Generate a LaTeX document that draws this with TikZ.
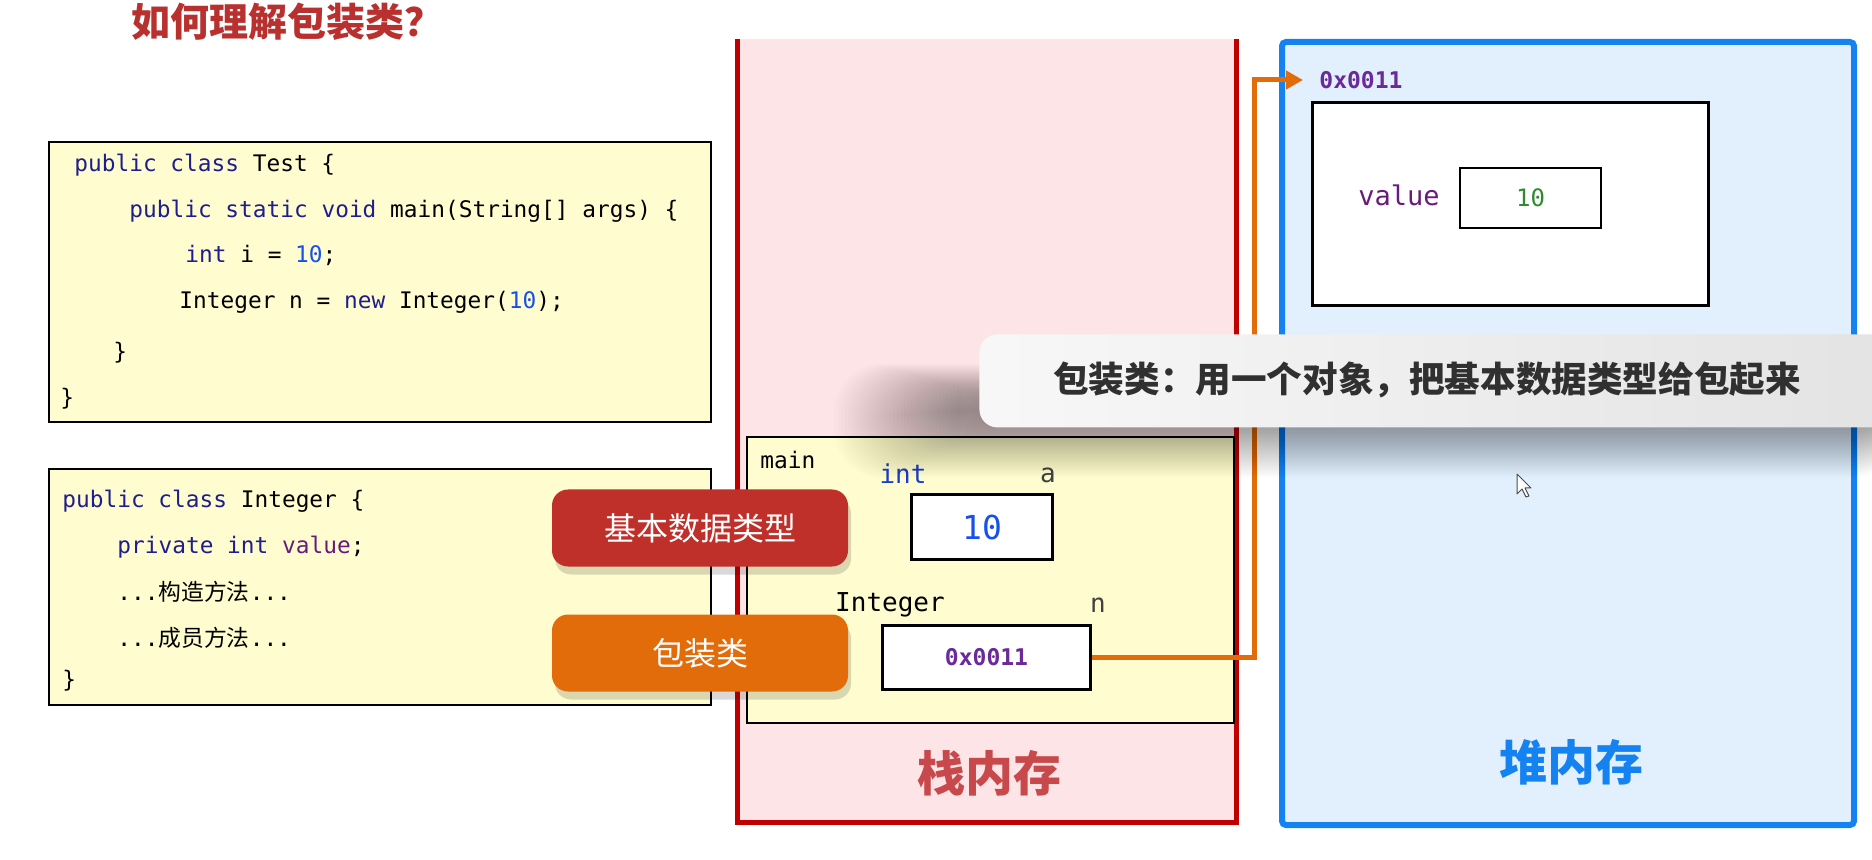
\documentclass[tikz,border=0pt]{standalone}
\usepackage{fontspec}
\usetikzlibrary{arrows.meta,shadows,calc}
\newfontfamily\cjk{Noto Sans CJK SC}
\newfontfamily\codefont{DejaVu Sans Mono}
\definecolor{kw}{HTML}{1E1E8C}
\definecolor{num}{HTML}{1750EB}
\definecolor{fld}{HTML}{6A1A7A}
\definecolor{addr}{HTML}{6A2A9A}
\definecolor{grn}{HTML}{2E8B2E}
\definecolor{stackred}{HTML}{C00000}
\definecolor{stackfill}{HTML}{FDE4E6}
\definecolor{heapblue}{HTML}{1482F0}
\definecolor{heapfill}{HTML}{E2F0FD}
\definecolor{codefill}{HTML}{FFFDCF}
\definecolor{titlered}{HTML}{B8312F}
\definecolor{calred}{HTML}{C0302B}
\definecolor{calorange}{HTML}{E36C0A}
\definecolor{stacktext}{HTML}{C8494B}
\definecolor{captext}{HTML}{303030}
\definecolor{intblue}{HTML}{1A3DC8}
\begin{document}
\begin{tikzpicture}[x=0.5pt,y=-0.5pt,
  codebox/.style={draw=black, line width=1pt, fill=codefill, anchor=north west, inner sep=0pt},
  codeline/.style={anchor=west, inner sep=0pt, font={\codefont\fontsize{11.4}{13}\selectfont}},
  lbl/.style={inner sep=0pt, font={\codefont\fontsize{13}{15}\selectfont}},
  cell/.style={draw=black, line width=1.5pt, fill=white, anchor=north west, inner sep=0pt},
  callout/.style={rounded corners=8pt, minimum width=148pt, minimum height=38.5pt, text=white,
     font={\cjk\fontsize{16}{18}\selectfont},
     drop shadow={shadow xshift=1.5pt, shadow yshift=-4pt, fill=black, opacity=0.15}},
  memtitle/.style={font={\cjk\bfseries\fontsize{24}{28}\selectfont}},
  ptr/.style={draw=calorange, line width=2.5pt, -{Triangle[length=8.5pt,width=9pt]}}
]
\useasboundingbox (0,0) rectangle (1872,860);
\fill[white] (0,0) rectangle (1872,860);

% title
\node[text=titlered, font={\cjk\bfseries\fontsize{19.5}{22}\selectfont}] (title) at (287,22) {如何理解包装类？};

% Test code box
\node[codebox, minimum width=331pt, minimum height=140pt] (test) at (48,141) {};
\node[codeline] (t1) at (74,165) {\textcolor{kw}{public class} Test \{};
\node[codeline] (t2) at (129,211) {\textcolor{kw}{public static void} main(String[] args) \{};
\node[codeline] (t3) at (185,255) {\textcolor{kw}{int} i = \textcolor{num}{10};};
\node[codeline] (t4) at (179,302) {Integer n = \textcolor{kw}{new} Integer(\textcolor{num}{10});};
\node[codeline] (t5) at (113,353) {\}};
\node[codeline] (t6) at (60,399) {\}};

% Integer code box
\node[codebox, minimum width=331pt, minimum height=118pt] (intcls) at (48,468) {};
\node[codeline] (i1) at (62,501) {\textcolor{kw}{public class} Integer \{};
\node[codeline] (i2) at (117,547) {\textcolor{kw}{private int} \textcolor{fld}{value};};
\node[codeline] (i3) at (117,592) {...{\cjk 构造方法}...};
\node[codeline] (i4) at (117,638) {...{\cjk 成员方法}...};
\node[codeline] (i5) at (62,681) {\}};

% stack memory
\node[fill=stackfill, anchor=north west, inner sep=0pt, minimum width=249.5pt, minimum height=391.5pt] (stack) at (737,39) {};
\draw[stackred, line width=2.5pt] (stack.north west) -- (stack.south west) -- (stack.south east) -- (stack.north east);
\node[codebox, line width=0.8pt, minimum width=243.5pt, minimum height=143pt] (frame) at (746,436) {};
\node[lbl, anchor=west, font={\codefont\fontsize{11.4}{13}\selectfont}] (mainlbl) at (760,460) {main};
\node[lbl, text=intblue] (intlbl) at (903,474) {int};
\node[lbl, text=black!75] (albl) at (1048,475) {a};
\node[cell, minimum width=70.5pt, minimum height=32.5pt] (boxa) at (910,493) {};
\node[text=num, font={\codefont\fontsize{16.5}{18}\selectfont}] (aval) at (boxa.center) {10};
\node[lbl] (intglbl) at (890,605) {Integer};
\node[lbl, text=black!75] (nlbl) at (1098,605) {n};
\node[cell, minimum width=104pt, minimum height=32pt] (boxn) at (881,624) {};
\node[text=addr, font={\codefont\bfseries\fontsize{11.5}{13}\selectfont}] (nval) at (boxn.center) {0x0011};
\node[memtitle, text=stacktext] (stacklbl) at (989,773) {栈内存};

% heap memory
\node[draw=heapblue, line width=3pt, fill=heapfill, rounded corners=2pt, anchor=north west, inner sep=0pt,
      minimum width=286pt, minimum height=391.5pt] (heap) at (1279,39) {};
\node[anchor=west, inner sep=0pt, text=addr, font={\codefont\bfseries\fontsize{11.5}{13}\selectfont}] (haddr) at (1319,80) {0x0011};
\node[cell, minimum width=198pt, minimum height=101.5pt] (obj) at (1311,101) {};
\node[lbl, text=fld, font={\codefont\fontsize{13.5}{15}\selectfont}] (vlbl) at (1399,195) {value};
\node[cell, line width=1pt, minimum width=70.5pt, minimum height=30pt] (vbox) at (1459,167) {};
\node[text=grn, font={\codefont\fontsize{12}{14}\selectfont}] (vval) at (vbox.center) {10};
\node[memtitle, text=heapblue] (heaplbl) at (1571,762) {堆内存};

% pointer arrow
\coordinate (turn) at (1254,400);
\draw[ptr] (boxn.east) -| (turn) |- ($(haddr.west)+(-16,0)$);

% callouts
\node[callout, fill=calred] (prim) at (700,528) {基本数据类型};
\node[callout, fill=calorange] (wrap) at (700,653) {包装类};

% caption shadow (soft, many thin layers)
\foreach \i in {1,...,36}{
  \fill[black, opacity=0.011, rounded corners=24pt] (960-3.5*\i,400-1*\i) rectangle (1900,420+1.6*\i);
}
% caption
\node[anchor=north west, inner sep=0pt, minimum width=460pt, minimum height=46.5pt, rounded corners=9pt,
      left color=white!97!black, right color=black!11] (cap) at (979,334) {};
\node[text=captext, font={\cjk\bfseries\fontsize{17.8}{20}\selectfont}] (captxt) at (1427,380) {包装类：用一个对象，把基本数据类型给包起来};

% mouse cursor
\draw[black!70, fill=white, line width=0.5pt, line join=round] (1517,474) -- (1517,494) -- (1522,489) -- (1526,497) -- (1529,496) -- (1525,488) -- (1531,488) -- cycle;
\end{tikzpicture}
\end{document}
